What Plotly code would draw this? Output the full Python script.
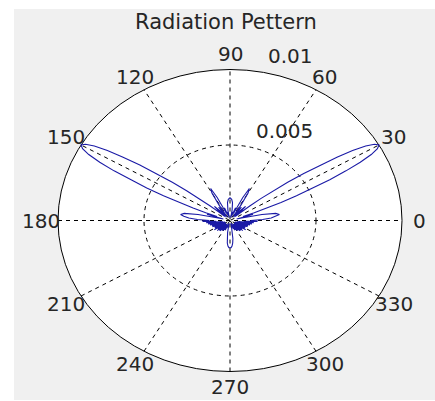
import numpy as np
import plotly.graph_objects as go

# ---- data (angle in degrees, radius in axis units) ----
theta_upper = [0, 2, 4, 6, 8, 10, 12, 14, 15, 16, 17, 18, 19, 20, 21, 22, 23, 24, 25, 26, 27, 28, 29,
               30, 31, 32, 33, 34, 35, 36, 37, 38, 39, 40, 41, 42, 44, 46, 48, 50, 53, 56, 58, 60, 62,
               64, 66, 69, 72, 75, 78, 80, 83, 86, 90,
               94, 97, 100, 102, 105, 108, 111, 114, 116, 118, 120, 122, 124, 127, 130, 132, 134, 136,
               138, 139, 140, 141, 142, 143, 144, 145, 146, 147, 148, 149, 150, 151, 152, 153, 154, 155,
               156, 157, 158, 159, 160, 161, 162, 163, 164, 165, 166, 168, 170, 172, 174, 176, 178, 180]
r_upper = [0.0012, 0.0019, 0.0024, 0.0027, 0.0029, 0.0027, 0.0019, 0.0007, 0.0004, 0.0010, 0.0014,
           0.0011, 0.0008, 0.0015, 0.0023, 0.0032, 0.0042, 0.0053, 0.0064, 0.0075, 0.0085, 0.0093,
           0.0098, 0.0100, 0.0098, 0.0093, 0.0085, 0.0075, 0.0064, 0.0053, 0.0042, 0.0032, 0.0023,
           0.0015, 0.0008, 0.0004, 0.0009, 0.0013, 0.0008, 0.0003, 0.0011, 0.0004, 0.0012, 0.0021,
           0.0024, 0.0017, 0.0005, 0.0009, 0.0003, 0.0006, 0.0002, 0.0007, 0.0012, 0.0014, 0.0015,
           0.0014, 0.0012, 0.0007, 0.0002, 0.0006, 0.0003, 0.0009, 0.0005, 0.0017, 0.0024, 0.0021,
           0.0012, 0.0004, 0.0011, 0.0003, 0.0008, 0.0013, 0.0009, 0.0004, 0.0008, 0.0015, 0.0023,
           0.0032, 0.0042, 0.0053, 0.0064, 0.0075, 0.0085, 0.0093, 0.0098, 0.0100, 0.0098, 0.0093,
           0.0085, 0.0075, 0.0064, 0.0053, 0.0042, 0.0032, 0.0023, 0.0015, 0.0008, 0.0011, 0.0014,
           0.0010, 0.0004, 0.0007, 0.0019, 0.0027, 0.0029, 0.0027, 0.0024, 0.0019, 0.0012]

theta_lower = list(range(182, 361, 2))
r_lower = [0.0016, 0.0008, 0.0014, 0.0005, 0.0013, 0.0004, 0.0012, 0.0005, 0.0011, 0.0003,
           0.0011, 0.0005, 0.0010, 0.0003, 0.0010, 0.0004, 0.0011, 0.0003, 0.0009, 0.0004,
           0.0010, 0.0003, 0.0009, 0.0004, 0.0009, 0.0003, 0.0008, 0.0004, 0.0008, 0.0003,
           0.0007, 0.0003, 0.0007, 0.0002, 0.0006, 0.0002, 0.0005, 0.0002, 0.0004, 0.0008,
           0.0012, 0.0015, 0.0017, 0.0018, 0.0018,
           0.0018, 0.0017, 0.0015, 0.0012, 0.0008, 0.0004, 0.0002, 0.0005, 0.0002, 0.0006,
           0.0002, 0.0007, 0.0003, 0.0007, 0.0003, 0.0008, 0.0004, 0.0008, 0.0003, 0.0009,
           0.0004, 0.0009, 0.0003, 0.0010, 0.0004, 0.0009, 0.0003, 0.0011, 0.0004, 0.0010,
           0.0003, 0.0010, 0.0005, 0.0011, 0.0003, 0.0011, 0.0005, 0.0012, 0.0004, 0.0013,
           0.0005, 0.0014, 0.0008, 0.0016, 0.0012]

angle_ticks = [0, 30, 60, 90, 120, 150, 180, 210, 240, 270, 300, 330]
angle_labels = ["0", "30", "60", "90", "120", "150", "180", "210", "240", "270", "300", "330"]
ring_values = [0.005, 0.01]
ring_labels = ["0.005", "0.01"]
title_text = "Radiation Pettern"

# ---- geometry of the picture ----
W, H = 435, 401
cx, cy, rx, ry = 230.0, 220.5, 172.0, 151.0
R = max(ring_values)
x_range = [-cx / rx * R, (W - cx) / rx * R]
y_range = [-(H - cy) / ry * R, cy / ry * R]

theta = np.deg2rad(np.array(theta_upper + theta_lower))
rad = np.array(r_upper + r_lower)
xs = rad * np.cos(theta)
ys = rad * np.sin(theta)

fig = go.Figure()
fig.add_trace(go.Scatter(x=xs, y=ys, mode="lines",
                         line=dict(color="#1a1aa6", width=1.1), hoverinfo="skip", showlegend=False))

shapes = []
# grey figure background
shapes.append(dict(type="rect", xref="paper", yref="paper", x0=14 / W, x1=1, y0=1 / H, y1=1 - 9 / H,
                   fillcolor="#f0f0f0", line=dict(width=0), layer="below"))
# white disk
shapes.append(dict(type="circle", xref="x", yref="y", x0=-R, x1=R, y0=-R, y1=R,
                   fillcolor="white", line=dict(width=0), layer="below"))
# spokes
for a in angle_ticks[:6]:
    t = np.deg2rad(a)
    shapes.append(dict(type="line", xref="x", yref="y",
                       x0=-R * np.cos(t), y0=-R * np.sin(t), x1=R * np.cos(t), y1=R * np.sin(t),
                       line=dict(color="black", width=1, dash="4px,4px"), layer="below"))
# rings
for rv in ring_values:
    solid = rv == R
    shapes.append(dict(type="circle", xref="x", yref="y", x0=-rv, x1=rv, y0=-rv, y1=rv,
                       line=dict(color="black", width=1, dash="solid" if solid else "4px,4px"),
                       layer="below"))

annotations = []
font_lbl = dict(family="DejaVu Sans", size=20, color="#262626")
for a, lab in zip(angle_ticks, angle_labels):
    t = np.deg2rad(a)
    annotations.append(dict(x=1.1 * R * np.cos(t), y=1.1 * R * np.sin(t), xref="x", yref="y",
                            text=lab, showarrow=False, xanchor="center", yanchor="middle",
                            font=font_lbl))
t82 = np.deg2rad(82)
for rv, lab in zip(ring_values, ring_labels):
    rr = rv + 0.005 / 20
    annotations.append(dict(x=rr * np.cos(t82), y=rr * np.sin(t82), xref="x", yref="y",
                            text=lab, showarrow=False, xanchor="left", yanchor="bottom",
                            xshift=11, yshift=-3, font=font_lbl))
annotations.append(dict(x=226 / W, y=1 - 22 / H, xref="paper", yref="paper", text=title_text,
                        showarrow=False, xanchor="center", yanchor="middle",
                        font=dict(family="DejaVu Sans", size=21, color="#262626")))

fig.update_layout(
    width=W, height=H, autosize=False,
    margin=dict(l=0, r=0, t=0, b=0, pad=0),
    paper_bgcolor="white", plot_bgcolor="rgba(0,0,0,0)",
    xaxis=dict(range=x_range, visible=False, fixedrange=True),
    yaxis=dict(range=y_range, visible=False, fixedrange=True),
    shapes=shapes, annotations=annotations, showlegend=False,
)
fig.write_html("out.html")
